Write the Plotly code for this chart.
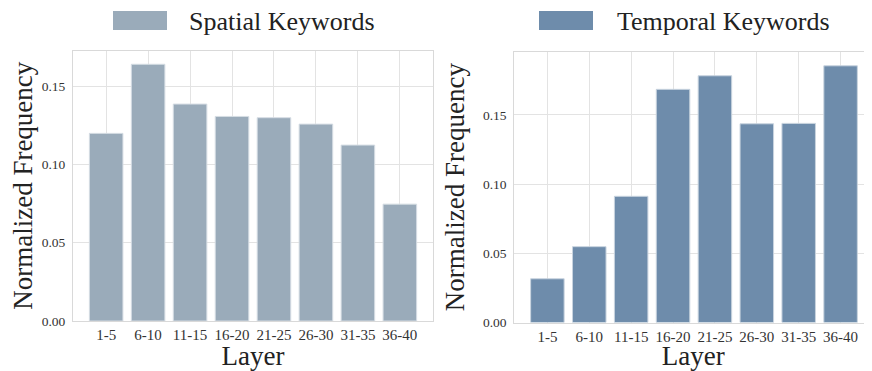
import plotly.graph_objects as go
from plotly.subplots import make_subplots

layers = ["1-5", "6-10", "11-15", "16-20", "21-25", "26-30", "31-35", "36-40"]
spatial = [0.1198, 0.1639, 0.1385, 0.1306, 0.1298, 0.1257, 0.1123, 0.0746]
temporal = [0.0316, 0.0548, 0.0912, 0.1685, 0.1783, 0.1436, 0.1439, 0.1855]
y_ticks = [0.0, 0.05, 0.10, 0.15]
y_tick_text = ["0.00", "0.05", "0.10", "0.15"]

spatial_color = "#9aabba"
temporal_color = "#6e8cab"
FONT = "Liberation Serif"

# the page body has an 8px margin, so the figure is sized/positioned accordingly
W, H, OFF = 864, 363, 8
def px(x):
    return (x - OFF) / W
def py(y):
    return 1 - (y - OFF) / H

fig = make_subplots(rows=1, cols=2)

fig.add_trace(go.Bar(x=list(range(len(layers))), y=spatial, width=0.8,
                     marker=dict(color=spatial_color, line=dict(color="#d6dde4", width=1)),
                     name="Spatial Keywords", showlegend=False), row=1, col=1)
fig.add_trace(go.Bar(x=list(range(len(layers))), y=temporal, width=0.8,
                     marker=dict(color=temporal_color, line=dict(color="#c9d4df", width=1)),
                     name="Temporal Keywords", showlegend=False), row=1, col=2)

axis_common = dict(showgrid=True, gridcolor="#e3e3e3", gridwidth=1,
                   showline=True, linecolor="#d9d9d9", linewidth=1, mirror=True,
                   ticks="", zeroline=False, automargin=False)

fig.update_xaxes(**axis_common, tickmode="array", tickvals=list(range(len(layers))),
                 ticktext=layers, ticklabelstandoff=0,
                 tickfont=dict(family=FONT, size=15, color="#333333"),
                 title=dict(text="Layer", font=dict(family=FONT, size=27, color="#222222"), standoff=0))
fig.update_yaxes(**axis_common, tickmode="array", tickvals=y_ticks, ticktext=y_tick_text,
                 ticklabelstandoff=4,
                 tickfont=dict(family=FONT, size=13.5, color="#333333"),
                 title=dict(text="Normalized Frequency", font=dict(family=FONT, size=27, color="#222222"), standoff=10))

fig.update_layout(
    xaxis=dict(domain=[px(73), px(433)], range=[-0.79, 7.79]),
    yaxis=dict(domain=[py(321), py(50.5)], range=[0, 0.1727]),
    xaxis2=dict(domain=[px(514.3), 1.0], range=[-0.79, 7.75]),
    yaxis2=dict(domain=[py(322.5), py(51.7)], range=[0, 0.1957]),
    width=W, height=H,
    margin=dict(l=0, r=0, t=0, b=0),
    plot_bgcolor="white", paper_bgcolor="white",
    bargap=0.2,
)

# legend-like headers
legend_items = [("Spatial Keywords", spatial_color, 113, 167, 187),
                ("Temporal Keywords", temporal_color, 539, 593, 615)]
for label, color, x0, x1, tx in legend_items:
    fig.add_shape(type="rect", xref="paper", yref="paper",
                  x0=px(x0), x1=px(x1), y0=py(30), y1=py(11),
                  fillcolor=color, line=dict(color=color, width=0))
    fig.add_annotation(text=label, xref="paper", yref="paper",
                       x=px(tx), y=py(21), xanchor="left", yanchor="middle",
                       showarrow=False, font=dict(family=FONT, size=26, color="#222222"))

fig.write_html("out.html")
